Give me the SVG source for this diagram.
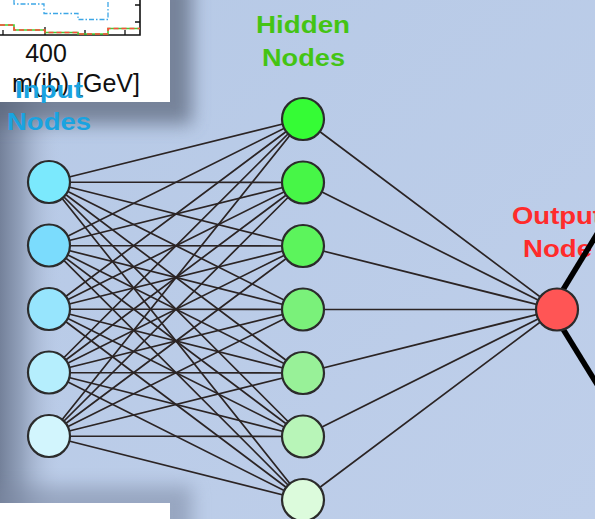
<svg xmlns="http://www.w3.org/2000/svg" width="595" height="519" viewBox="0 0 595 519">
  <defs>
    <linearGradient id="bg" x1="0" y1="0" x2="1" y2="1">
      <stop offset="0" stop-color="#b6c9e6"/>
      <stop offset="1" stop-color="#bfcfea"/>
    </linearGradient>
    <linearGradient id="leftShade" x1="0" y1="0" x2="1" y2="0">
      <stop offset="0" stop-color="#74819a"/>
      <stop offset="0.35" stop-color="#93a2bc"/>
      <stop offset="1" stop-color="#bccbe6" stop-opacity="0"/>
    </linearGradient>
    <filter id="soft" x="-30%" y="-30%" width="160%" height="160%">
      <feGaussianBlur stdDeviation="9"/>
    </filter>
    <style>
      .edge { stroke: #2b2424; stroke-width: 1.7; fill: none; }
      .node { stroke: #2b2b2b; stroke-width: 2.2; }
      .lbl { font-family: "Liberation Sans", Arial, sans-serif; font-weight: bold; font-size: 24px; }
      .mid { text-anchor: middle; }
      .start { text-anchor: start; }
      .axis { font-family: "Liberation Sans", Arial, sans-serif; font-size: 25px; fill: #111; }
      .heavy { stroke: #000; stroke-width: 5.5; fill: none; }
    </style>
  </defs>

  <!-- backdrop -->
  <rect width="595" height="519" fill="url(#bg)"/>
  <rect x="0" y="0" width="62" height="519" fill="url(#leftShade)"/>

  <!-- shadows of the pasted panels -->
  <rect x="-20" y="-20" width="212" height="144" fill="#5a6579" opacity="0.7" filter="url(#soft)"/>
  <rect x="-20" y="486" width="212" height="60" fill="#7a87a0" opacity="0.55" filter="url(#soft)"/>

  <!-- histogram panel (top left) -->
  <g id="plot-panel">
    <rect x="0" y="0" width="170" height="102" fill="#ffffff"/>
    <!-- frame -->
    <path d="M0 35 H140 V0" fill="none" stroke="#111" stroke-width="1.6"/>
    <path d="M3 35 v-5 M45 35 v-8 M85 35 v-5 M125 35 v-5 M140 5 h-5 M140 22 h-5" stroke="#111" stroke-width="1.3" fill="none"/>
    <!-- green / red step lines -->
    <path d="M0 25 H14 V30 H45 V32.5 H78 V34 H108 V28.5 H140" fill="none" stroke="#44cc33" stroke-width="1.6"/>
    <path d="M0 25 H14 V30 H45 V32.5 H78 V34 H108 V28.5 H140" fill="none" stroke="#ff4a3a" stroke-width="1.6" stroke-dasharray="5 3"/>
    <!-- blue dash-dot line -->
    <path d="M14 0 V4 H44 V13.5 H78 V19.5 H108 V0" fill="none" stroke="#3ca6e6" stroke-width="1.3" stroke-dasharray="5 2 1.5 2"/>
    <text class="axis" x="46" y="62" text-anchor="middle">400</text>
    <text class="axis" x="12" y="92" textLength="128" lengthAdjust="spacingAndGlyphs">m(jb) [GeV]</text>
  </g>

  <!-- lower left panel edge -->
  <rect x="0" y="503" width="170" height="16" fill="#ffffff"/>

  <!-- connectors -->
  <g id="connectors">
    <!-- input to hidden -->
    <g id="input-hidden">
      <path class="edge" d="M49 182 L303 119 M49 182 L303 182.5 M49 182 L303 246 M49 182 L303 309.5 M49 182 L303 373 M49 182 L303 436.5 M49 182 L303 500"/>
      <path class="edge" d="M49 245.5 L303 119 M49 245.5 L303 182.5 M49 245.5 L303 246 M49 245.5 L303 309.5 M49 245.5 L303 373 M49 245.5 L303 436.5 M49 245.5 L303 500"/>
      <path class="edge" d="M49 309 L303 119 M49 309 L303 182.5 M49 309 L303 246 M49 309 L303 309.5 M49 309 L303 373 M49 309 L303 436.5 M49 309 L303 500"/>
      <path class="edge" d="M49 372.5 L303 119 M49 372.5 L303 182.5 M49 372.5 L303 246 M49 372.5 L303 309.5 M49 372.5 L303 373 M49 372.5 L303 436.5 M49 372.5 L303 500"/>
      <path class="edge" d="M49 436 L303 119 M49 436 L303 182.5 M49 436 L303 246 M49 436 L303 309.5 M49 436 L303 373 M49 436 L303 436.5 M49 436 L303 500"/>
    </g>
    <!-- hidden to output -->
    <g id="hidden-output">
      <path class="edge" d="M303 119 L557 309.5 M303 182.5 L557 309.5 M303 246 L557 309.5 M303 309.5 L557 309.5 M303 373 L557 309.5 M303 436.5 L557 309.5 M303 500 L557 309.5"/>
    </g>
    <!-- heavy strokes leaving the output node -->
    <path class="heavy" d="M551 309.5 L600 389"/>
  </g>

  <!-- layer titles -->
  <text class="lbl start" x="15" y="98" fill="#1aa3e0" textLength="68" lengthAdjust="spacingAndGlyphs">Input</text>
  <text class="lbl start" x="7" y="130" fill="#1aa3e0" textLength="84" lengthAdjust="spacingAndGlyphs">Nodes</text>
  <text class="lbl start" x="256" y="33" fill="#44c414" textLength="94" lengthAdjust="spacingAndGlyphs">Hidden</text>
  <text class="lbl start" x="262" y="66" fill="#44c414" textLength="83" lengthAdjust="spacingAndGlyphs">Nodes</text>
  <text class="lbl start" x="512" y="224" fill="#ff2b2b" textLength="90" lengthAdjust="spacingAndGlyphs">Output</text>
  <text class="lbl start" x="523" y="257" fill="#ff2b2b" textLength="69" lengthAdjust="spacingAndGlyphs">Node</text>
  <!-- heavy stroke crosses over the output label -->
  <path class="heavy" d="M551 309.5 L600 229"/>

  <!-- input nodes -->
  <g id="in1"><circle class="node" cx="49" cy="182" r="21" fill="#7be9fd"/></g>
  <g id="in2"><circle class="node" cx="49" cy="245.5" r="21" fill="#7bdcfd"/></g>
  <g id="in3"><circle class="node" cx="49" cy="309" r="21" fill="#97e5fd"/></g>
  <g id="in4"><circle class="node" cx="49" cy="372.5" r="21" fill="#b5eefd"/></g>
  <g id="in5"><circle class="node" cx="49" cy="436" r="21" fill="#d2f5fd"/></g>

  <!-- hidden nodes -->
  <g id="h1"><circle class="node" cx="303" cy="119" r="21" fill="#35fc35"/></g>
  <g id="h2"><circle class="node" cx="303" cy="182.5" r="21" fill="#47f647"/></g>
  <g id="h3"><circle class="node" cx="303" cy="246" r="21" fill="#5cf45c"/></g>
  <g id="h4"><circle class="node" cx="303" cy="309.5" r="21" fill="#7af17a"/></g>
  <g id="h5"><circle class="node" cx="303" cy="373" r="21" fill="#98f198"/></g>
  <g id="h6"><circle class="node" cx="303" cy="436.5" r="21" fill="#b8f5b8"/></g>
  <g id="h7"><circle class="node" cx="303" cy="500" r="21" fill="#dcfbdc"/></g>

  <!-- output node -->
  <g id="out"><circle class="node" cx="557" cy="309.5" r="21" fill="#ff5555"/></g>
</svg>
